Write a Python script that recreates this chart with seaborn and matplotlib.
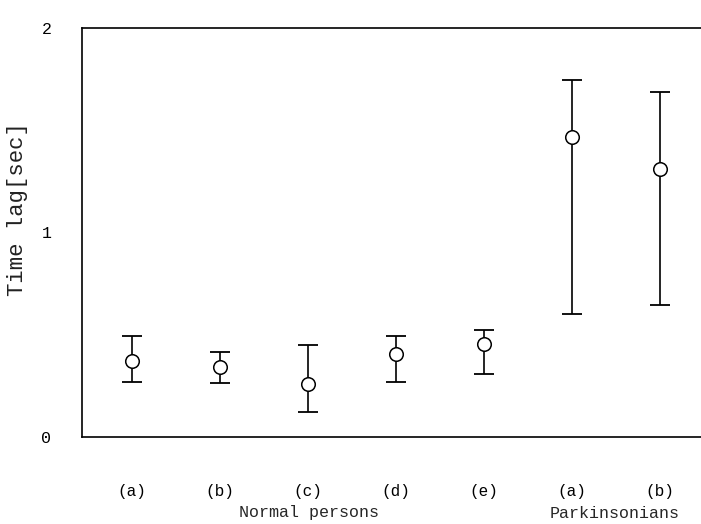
import matplotlib
matplotlib.use("Agg")
import matplotlib.pyplot as plt
import seaborn as sns
import numpy as np
import pandas as pd

# Data
groups = ["Normal persons"] * 5 + ["Parkinsonians"] * 2
tick_labels = ["(a)", "(b)", "(c)", "(d)", "(e)", "(a)", "(b)"]
means = [0.372, 0.341, 0.259, 0.406, 0.453, 1.466, 1.309]
upper = [0.495, 0.414, 0.450, 0.495, 0.523, 1.746, 1.687]
lower = [0.267, 0.263, 0.124, 0.267, 0.308, 0.601, 0.644]
y_ticks = [0, 1, 2]
y_label = "Time lag[sec]"

sns.set_theme(style="white")
plt.rcParams["font.family"] = ["Liberation Mono", "DejaVu Sans"]

pos = np.arange(len(means))
df = pd.DataFrame({"pos": pos, "mean": means, "group": groups})

fig = plt.figure(figsize=(7.01, 5.24), dpi=100)
ax = fig.add_axes([82 / 701, 87 / 524, 1 - 82 / 701, (437 - 28) / 524])

yerr = np.array([np.array(means) - np.array(lower), np.array(upper) - np.array(means)])
ax.errorbar(pos, means, yerr=yerr, fmt="none", ecolor="black", elinewidth=1.2,
            capsize=7, capthick=1.3, zorder=1)
sns.scatterplot(data=df, x="pos", y="mean", ax=ax, s=95, marker="o",
                facecolor="white", edgecolor="black", linewidth=1.1, zorder=3,
                legend=False)

ax.set_xlim(-0.5625, 6.47)
ax.set_ylim(0, 2)
ax.set_yticks(y_ticks)
ax.set_yticklabels([str(t) for t in y_ticks], fontsize=12)
ax.set_xticks(pos)
ax.set_xticklabels(tick_labels, fontsize=11.5)
ax.tick_params(axis="y", direction="in", length=11, width=1, pad=22, colors="black")
ax.tick_params(axis="x", length=0, pad=34, colors="black")
ax.set_xlabel("")
ax.set_ylabel("")

for s in ["left", "top", "bottom"]:
    ax.spines[s].set_color("black")
    ax.spines[s].set_linewidth(1.2)
ax.spines["right"].set_visible(False)

fig.text(18 / 701, 1 - 209 / 524, y_label, rotation=90, ha="center", va="center",
         fontsize=16, color="#222222")
fig.text(309 / 701, 1 - 513 / 524, "Normal persons", ha="center", va="center", fontsize=12)
fig.text(615 / 701, 1 - 513 / 524, "Parkinsonians", ha="center", va="center", fontsize=12)

fig.savefig("out.png", dpi=100)
